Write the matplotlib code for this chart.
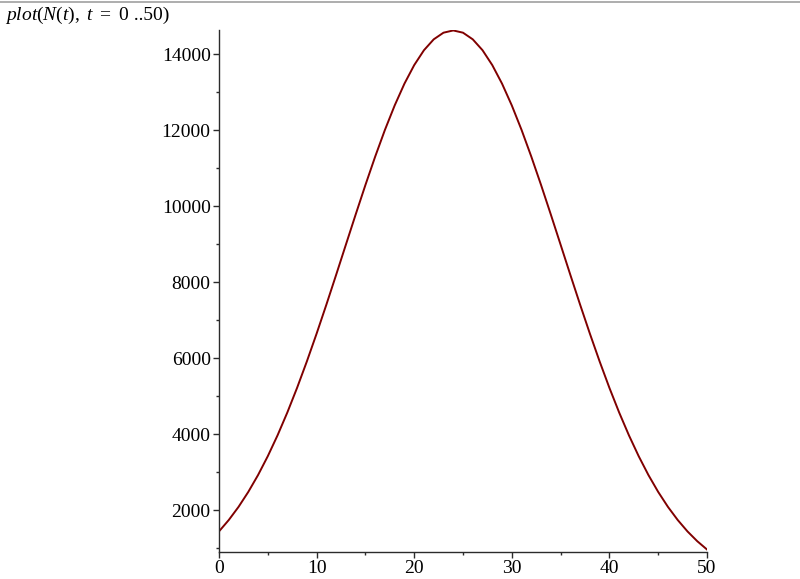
import matplotlib
matplotlib.use("Agg")
import matplotlib.pyplot as plt
from matplotlib.ticker import MultipleLocator
from matplotlib.lines import Line2D

t = list(range(0, 51))
N = [1438, 1738, 2083, 2477, 2921, 3418, 3967, 4567, 5216, 5910,
     6642, 7404, 8188, 8983, 9775, 10552, 11299, 12003, 12647, 13220,
     13708, 14100, 14386, 14561, 14620, 14561, 14386, 14100, 13708, 13220,
     12647, 12003, 11299, 10552, 9775, 8983, 8188, 7404, 6642, 5910,
     5216, 4567, 3967, 3418, 2921, 2477, 2083, 1738, 1438, 1181,
     962]
x_ticks = [0, 10, 20, 30, 40, 50]
y_ticks = [2000, 4000, 6000, 8000, 10000, 12000, 14000]

plt.rcParams['font.family'] = ['Liberation Serif', 'DejaVu Serif']
plt.rcParams['mathtext.fontset'] = 'custom'
plt.rcParams['mathtext.rm'] = 'Liberation Serif'
plt.rcParams['mathtext.it'] = 'Liberation Serif:italic'

fig = plt.figure(figsize=(8.0, 5.79), dpi=100)
ax = fig.add_axes([0.27375, 0.0472, 0.61, 0.901])

ax.plot(t, N, color='#800000', lw=1.4, solid_joinstyle='round')

ax.set_xlim(0, 50)
ax.set_ylim(905, 14632)
ax.set_xticks(x_ticks)
ax.set_yticks(y_ticks)
ax.xaxis.set_minor_locator(MultipleLocator(5))
ax.yaxis.set_minor_locator(MultipleLocator(1000))

for s in ['top', 'right']:
    ax.spines[s].set_visible(False)
for s in ['left', 'bottom']:
    ax.spines[s].set_color('#2b2b2b')
    ax.spines[s].set_linewidth(1.0)

ax.tick_params(which='major', length=4, width=1, color='#2b2b2b',
               labelsize=14, pad=2)
ax.tick_params(which='minor', length=2.5, width=1, color='#2b2b2b')

# linha cinza no topo e comando do Maple
fig.add_artist(Line2D([0, 1], [1 - 1.5 / 579, 1 - 1.5 / 579],
                      transform=fig.transFigure, color='#a0a0a0', lw=1.2))
cmd = fig.text(0.006, 0.965, r"$plot(N(t),\ t\ \mathrm{=}\ 0$",
               fontsize=14, ha='left', va='baseline')
fig.text(0, 0, " ..50)", fontsize=14, ha='left', va='baseline',
         transform=matplotlib.transforms.offset_copy(
             cmd.get_transform(), fig=fig, x=0, y=0))
fig.canvas.draw()
bb = cmd.get_window_extent()
fig.texts[-1].set_transform(matplotlib.transforms.IdentityTransform())
fig.texts[-1].set_position((bb.x1, 0.965 * fig.bbox.height))

fig.savefig('out.png', dpi=100)
